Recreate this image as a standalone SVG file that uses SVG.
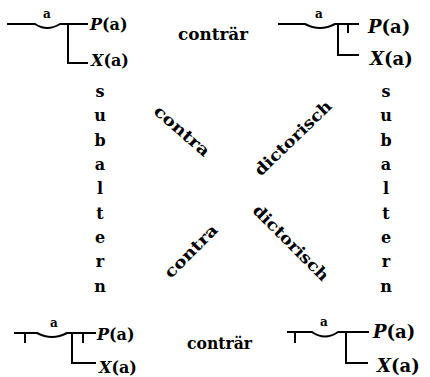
<svg xmlns="http://www.w3.org/2000/svg" width="430" height="377" viewBox="0 0 430 377">
<style>
.ln{fill:none;stroke:#000;stroke-width:2;stroke-linecap:square}
.t{font-family:"DejaVu Serif","Liberation Serif",serif;font-weight:bold;fill:#000}
.lb{font-size:16px}
.v{font-size:16px;text-anchor:middle}
.d{font-size:16px;text-anchor:middle;dominant-baseline:central}
.f{font-family:"DejaVu Serif","Liberation Serif",serif;font-weight:bold;font-size:16px;fill:#000}
.g{font-size:18px}
.sa{font-family:"DejaVu Serif","Liberation Serif",serif;font-weight:bold;font-size:12px;fill:#000;text-anchor:middle}
</style>
<rect width="430" height="377" fill="#fff"/>
<g id="top-left">
<path class="ln" d="M8,24 H35 Q47,32 60,24 H87 M68,24 V63 H87"/>
<text class="sa" x="47" y="18">a</text>
<text class="f" x="90" y="30"><tspan font-style="italic">P</tspan>(a)</text>
<text class="f" x="91" y="66"><tspan font-style="italic">X</tspan>(a)</text>
</g>
<g id="top-right">
<path class="ln" d="M279,24 H305 Q320,32 335,24 H358 M348,24 V32 M338,24 V55 H358"/>
<text class="sa" x="319" y="18">a</text>
<text class="f g" x="368" y="33"><tspan font-style="italic">P</tspan>(a)</text>
<text class="f g" x="370" y="65"><tspan font-style="italic">X</tspan>(a)</text>
</g>
<g id="bottom-left">
<path class="ln" d="M15,333 H37 Q52,341 67,333 H95 M25,333 V342 M83,333 V342 M72,333 V363 H95"/>
<text class="sa" x="54" y="327">a</text>
<text class="f" x="97" y="340"><tspan font-style="italic">P</tspan>(a)</text>
<text class="f" x="99" y="373"><tspan font-style="italic">X</tspan>(a)</text>
</g>
<g id="bottom-right">
<path class="ln" d="M288,332 H312 Q325,341 338,332 H368 M295,332 V342 M346,332 V363 H367"/>
<text class="sa" x="324" y="326">a</text>
<text class="f g" x="373" y="338"><tspan font-style="italic">P</tspan>(a)</text>
<text class="f g" x="377" y="372"><tspan font-style="italic">X</tspan>(a)</text>
</g>
<g id="connectors">
<text class="t lb" x="178" y="40" textLength="70" lengthAdjust="spacingAndGlyphs">conträr</text>
<text class="t lb" x="187" y="349" textLength="65" lengthAdjust="spacingAndGlyphs">conträr</text>
<g class="t v">
<text x="100" y="97">s</text><text x="100" y="121">u</text><text x="100" y="146">b</text><text x="100" y="170">a</text><text x="100" y="194">l</text><text x="100" y="219">t</text><text x="100" y="243">e</text><text x="100" y="267">r</text><text x="100" y="292">n</text>
<text x="386" y="97">s</text><text x="386" y="121">u</text><text x="386" y="146">b</text><text x="386" y="170">a</text><text x="386" y="194">l</text><text x="386" y="219">t</text><text x="386" y="243">e</text><text x="386" y="267">r</text><text x="386" y="292">n</text>
</g>
<text class="t d" transform="translate(182,131) rotate(41)" textLength="68" lengthAdjust="spacingAndGlyphs">contra</text>
<text class="t d" transform="translate(293,138) rotate(-44)" textLength="100" lengthAdjust="spacingAndGlyphs">dictorisch</text>
<text class="t d" transform="translate(191,251) rotate(-45)" textLength="68" lengthAdjust="spacingAndGlyphs">contra</text>
<text class="t d" transform="translate(291,243) rotate(45)" textLength="100" lengthAdjust="spacingAndGlyphs">dictorisch</text>
</g>
</svg>
